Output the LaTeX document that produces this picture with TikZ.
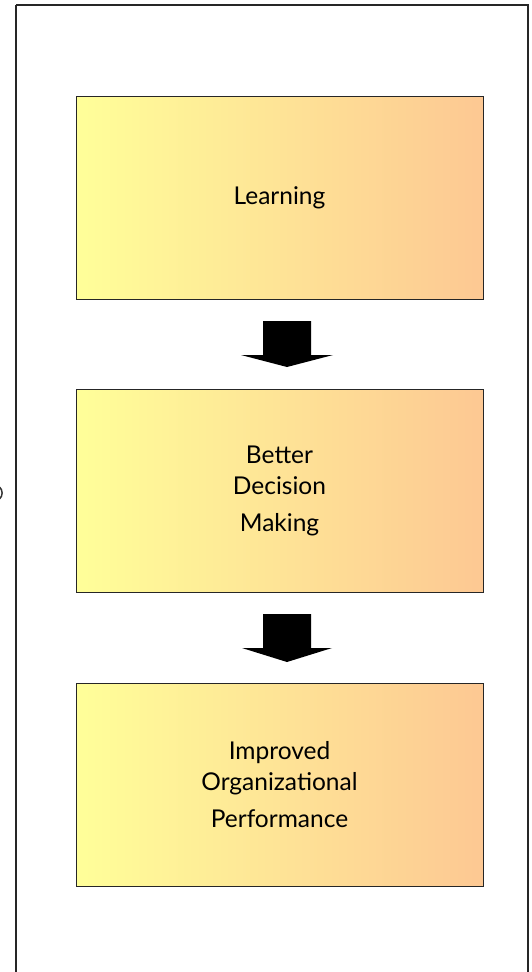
\documentclass[tikz,border=0pt]{standalone}
\usepackage{fontspec}
\setmainfont{Lato}
\definecolor{boxleft}{HTML}{FFFF99}
\definecolor{boxright}{HTML}{FDC893}
\begin{document}
\begin{tikzpicture}[x=1pt,y=-1pt,
  stage/.style={draw=black!85, line width=1pt, left color=boxleft, right color=boxright,
    minimum width=407pt, minimum height=203pt, inner sep=0pt, align=center,
    font=\fontsize{24.5}{31}\selectfont},
  blockarrow/.style={fill=black, draw=none},
  frame/.style={draw=black!85, line width=2pt}]
\useasboundingbox (0,0) rectangle (531,972);
\draw[frame] (16,5) -- (528,5) -- (528,980) (16,5) -- (16,980);
\draw[line width=1.5pt, black!80] (-0.5,487) .. controls (3,490) and (3,496) .. (-0.5,499);
\node[stage] (learn) at (279.5,197.5) {Learning};
\node[stage] (decide) at (279.5,491) {Better\\Decision\\[6pt]Making};
\node[stage] (perf) at (279.5,784.5) {Improved\\Organizational\\[6pt]Performance};
\coordinate (a1) at (287,321);
\coordinate (a2) at (287,614);
\fill[blockarrow] (a1) ++(-24,0) -- ++(48,0) -- ++(0,34) -- ++(22,0) -- (287,367) -- (241,355) -- (263,355) -- cycle;
\fill[blockarrow] (a2) ++(-24,0) -- ++(48,0) -- ++(0,34) -- ++(21,0) -- (287,662) -- (242,648) -- (263,648) -- cycle;
\end{tikzpicture}
\end{document}
